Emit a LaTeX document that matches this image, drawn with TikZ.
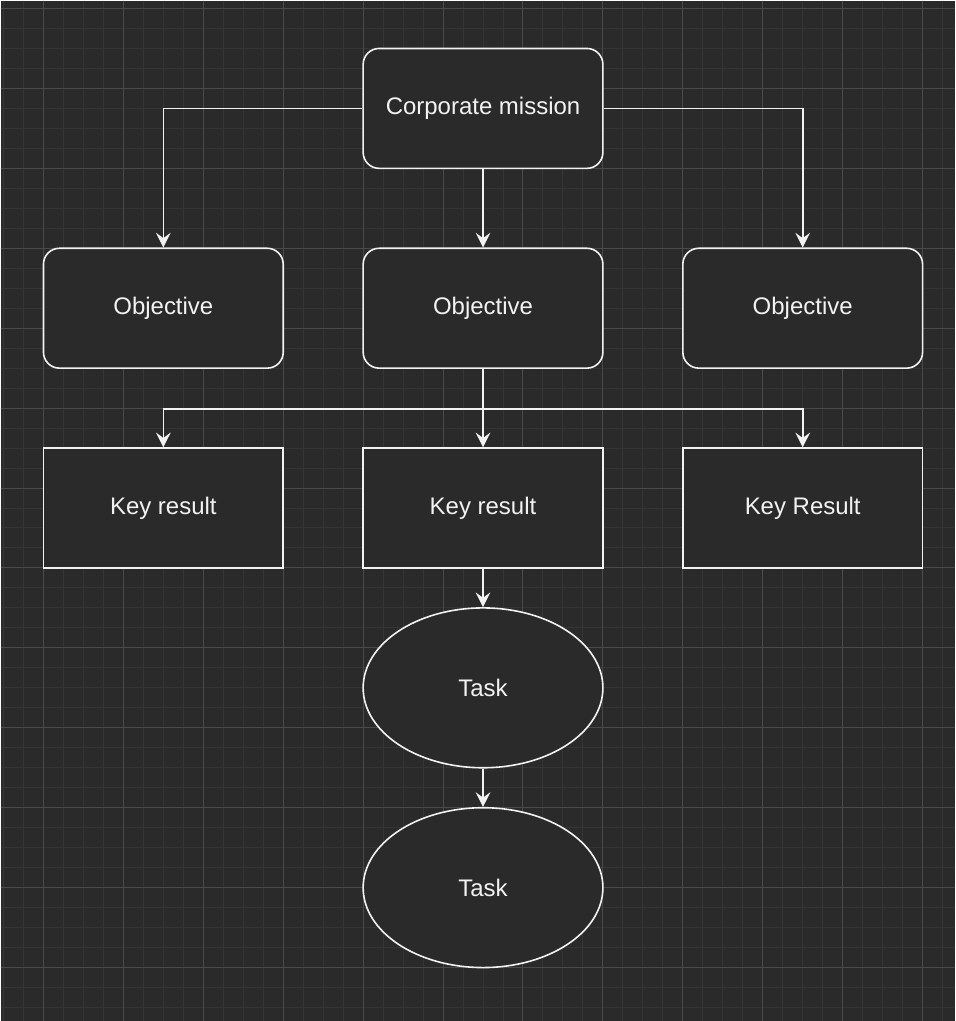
\documentclass[tikz,border=0pt]{standalone}
\usepackage{fontspec}
\setmainfont{Liberation Sans}
\usetikzlibrary{arrows.meta,positioning,shapes.geometric}

\definecolor{canvas}{HTML}{2A2A2A}
\definecolor{gridminor}{HTML}{353535}
\definecolor{gridmajor}{HTML}{4A4A4A}
\definecolor{ink}{HTML}{F2F2F2}

\begin{document}
\begin{tikzpicture}[->,>={Stealth[length=11pt,width=11pt,inset=4pt]},
            node distance=150pt and 240pt,on grid,
            every node/.style={font=\fontsize{18pt}{21pt}\selectfont,text=ink},
            block/.style={draw=ink,fill=canvas,line width=1.2pt,
                          minimum width=180pt,minimum height=90pt,inner sep=0pt},
            roundblock/.style={block,rounded corners=12pt},
            tasknode/.style={block,ellipse,minimum height=120pt},
            link/.style={draw=ink,line width=1.2pt}]

      % canvas and grid
      \fill[canvas] (0,0) rectangle (716.25pt,-765.75pt);
      \foreach \k in {0,...,47}
            \draw[-,gridminor,line width=0.75pt] (2.25pt+\k*15pt,0) -- ++(0,-765.75pt);
      \foreach \k in {0,...,50}
            \draw[-,gridminor,line width=0.75pt] (0,-6pt-\k*15pt) -- ++(716.25pt,0);
      \foreach \k in {0,...,11}
            \draw[-,gridmajor,line width=0.75pt] (32.25pt+\k*60pt,0) -- ++(0,-765.75pt);
      \foreach \k in {0,...,12}
            \draw[-,gridmajor,line width=0.75pt] (0,-6pt-\k*60pt) -- ++(716.25pt,0);
      \useasboundingbox (0,0) rectangle (716.25pt,-765.75pt);

      \node[roundblock] (mission) at (362.25pt,-81pt) {Corporate mission};

      \node[roundblock] (obj_m) [below=of mission] {Objective};
      \node[roundblock] (obj_l) [left=of obj_m] {Objective};
      \node[roundblock] (obj_r) [right=of obj_m] {Objective};

      \node[block] (kr_m) [below=of obj_m] {Key result};
      \node[block] (kr_l) [left=of kr_m] {Key result};
      \node[block] (kr_r) [right=of kr_m] {Key Result};

      \node[tasknode] (task_a) [below=135pt of kr_m] {Task};
      \node[tasknode] (task_b) [below=of task_a] {Task};

      \coordinate[below=30pt of obj_m.south] (split);

      \draw[link] (mission.west) -| (obj_l.north);
      \draw[link] (mission.east) -| (obj_r.north);
      \draw[link] (split) -| (kr_l.north);
      \draw[link] (split) -| (kr_r.north);

      \path (mission) edge [link] (obj_m)
            (obj_m)   edge [link] (kr_m)
            (kr_m)    edge [link] (task_a)
            (task_a)  edge [link] (task_b)
            ;

\end{tikzpicture}
\end{document}
